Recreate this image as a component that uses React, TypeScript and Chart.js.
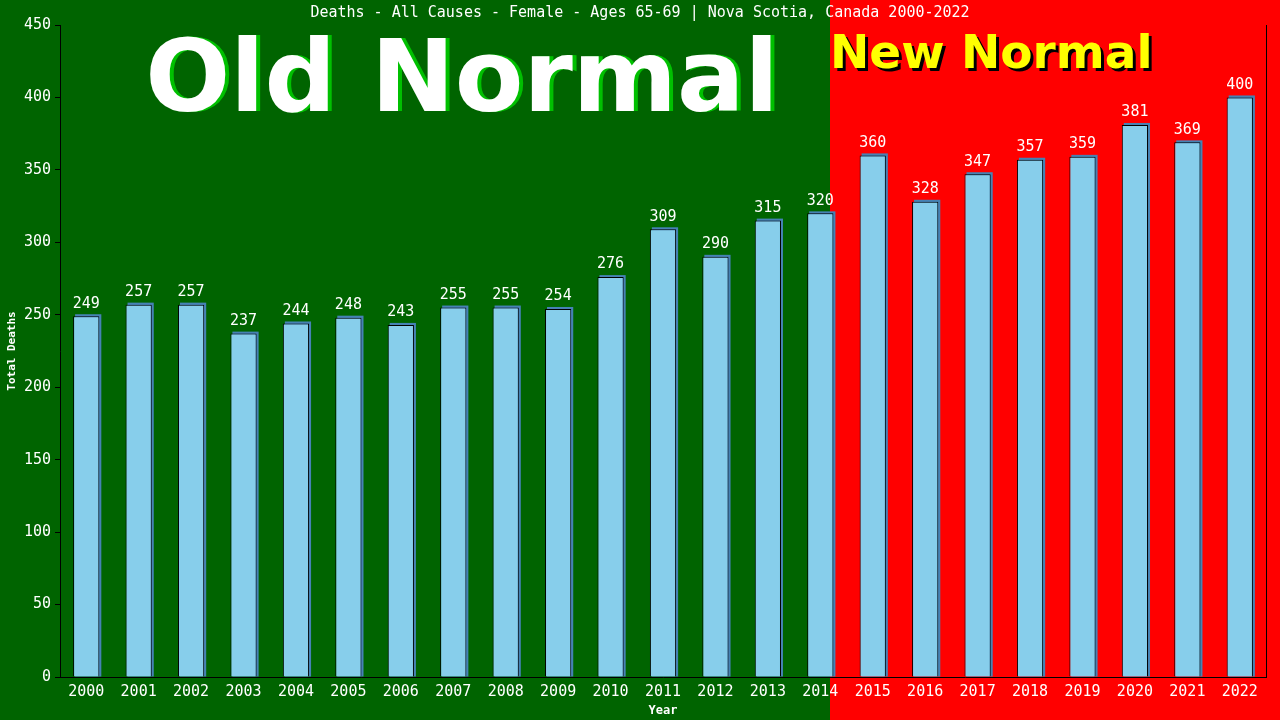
import React, { useEffect, useRef } from 'react';
import Chart from 'chart.js/auto';

// === Data ===
const YEARS = [
  '2000', '2001', '2002', '2003', '2004', '2005', '2006', '2007', '2008', '2009', '2010', '2011',
  '2012', '2013', '2014', '2015', '2016', '2017', '2018', '2019', '2020', '2021', '2022',
];
const DEATHS = [
  249, 257, 257, 237, 244, 248, 243, 255, 255, 254, 276, 309,
  290, 315, 320, 360, 328, 347, 357, 359, 381, 369, 400,
];
const Y_MIN = 0;
const Y_MAX = 450;
const Y_STEP = 50;

const TITLE = 'Deaths - All Causes - Female - Ages 65-69 | Nova Scotia, Canada 2000-2022';
const MONO = '"DejaVu Sans Mono", monospace';
const SANS = '"DejaVu Sans", Verdana, sans-serif';

const GREEN = '#006400';
const RED = '#ff0000';
const SPLIT_X = 830; // where the red "new normal" panel starts

// === Background, banners, title ===
const backdrop = {
  id: 'backdrop',
  beforeDraw(chart: any) {
    const { ctx, width, height } = chart;
    ctx.save();
    ctx.fillStyle = GREEN;
    ctx.fillRect(0, 0, width, height);
    ctx.fillStyle = RED;
    ctx.fillRect(SPLIT_X, 0, width - SPLIT_X, height);

    ctx.fillStyle = '#ffffff';
    ctx.font = `15px ${MONO}`;
    ctx.textAlign = 'center';
    ctx.textBaseline = 'middle';
    ctx.fillText(TITLE, width / 2, 13);

    // Old Normal
    ctx.font = `bold 100px ${SANS}`;
    ctx.textAlign = 'center';
    ctx.textBaseline = 'alphabetic';
    ctx.fillStyle = '#00c000';
    ctx.fillText('Old Normal', 466, 111);
    ctx.fillStyle = '#ffffff';
    ctx.fillText('Old Normal', 462, 111);

    // New Normal
    ctx.font = `bold 47px ${SANS}`;
    ctx.textAlign = 'left';
    ctx.fillStyle = '#000000';
    ctx.fillText('New Normal', SPLIT_X + 3, 71);
    ctx.fillStyle = '#ffff00';
    ctx.fillText('New Normal', SPLIT_X, 68);
    ctx.restore();
  },
  beforeDatasetsDraw(chart: any) {
    const { ctx } = chart;
    const meta = chart.getDatasetMeta(0);
    ctx.save();
    ctx.fillStyle = '#4682b4';
    meta.data.forEach((bar: any) => {
      const half = bar.width / 2;
      ctx.fillRect(bar.x - half + 2, bar.y - 2, bar.width, bar.base - bar.y + 2);
    });
    ctx.restore();
  },
  afterDatasetsDraw(chart: any) {
    const { ctx, chartArea } = chart;
    const meta = chart.getDatasetMeta(0);
    ctx.save();
    ctx.fillStyle = '#ffffff';
    ctx.font = `15px ${MONO}`;
    ctx.textAlign = 'center';
    ctx.textBaseline = 'bottom';
    meta.data.forEach((bar: any, i: number) => {
      ctx.fillText(String(DEATHS[i]), bar.x, bar.y - 5);
    });
    // right frame line
    ctx.strokeStyle = '#000000';
    ctx.lineWidth = 1;
    ctx.beginPath();
    ctx.moveTo(Math.round(chartArea.right) + 0.5, chartArea.top);
    ctx.lineTo(Math.round(chartArea.right) + 0.5, chartArea.bottom);
    ctx.stroke();
    ctx.restore();
  },
};

const App: React.FC = () => {
  const canvasRef = useRef<HTMLCanvasElement>(null);

  useEffect(() => {
    document.body.style.margin = '0';
    if (!canvasRef.current) return;
    const chart = new Chart(canvasRef.current, {
      type: 'bar',
      data: {
        labels: YEARS,
        datasets: [
          {
            data: DEATHS,
            backgroundColor: '#87ceeb',
            borderColor: '#000000',
            borderWidth: 1,
            barPercentage: 0.5,
            categoryPercentage: 1,
          },
        ],
      },
      options: {
        animation: false,
        responsive: false,
        maintainAspectRatio: false,
        layout: { padding: { top: 25, right: 14, left: 0, bottom: 0 } },
        plugins: {
          legend: { display: false },
          title: { display: false },
          tooltip: { enabled: false },
        },
        scales: {
          x: {
            afterFit: (s: any) => { s.height = 43; },
            grid: { display: true, drawOnChartArea: false, drawTicks: false, color: '#000' },
            border: { display: true, color: '#000', width: 1 },
            ticks: { color: '#ffffff', font: { family: MONO, size: 15 }, padding: 6, maxRotation: 0, autoSkip: false },
            title: {
              display: true,
              text: 'Year',
              color: '#ffffff',
              font: { family: MONO, size: 12, weight: 'bold' },
              padding: { top: 0, bottom: 2 },
            },
          },
          y: {
            min: Y_MIN,
            max: Y_MAX,
            afterFit: (s: any) => { s.width = 60; },
            grid: { display: true, drawOnChartArea: false, drawTicks: true, tickLength: 5, color: '#000' },
            border: { display: true, color: '#000', width: 1 },
            ticks: { stepSize: Y_STEP, color: '#ffffff', font: { family: MONO, size: 15 }, padding: 4 },
            title: {
              display: true,
              text: 'Total Deaths',
              color: '#ffffff',
              font: { family: MONO, size: 11, weight: 'bold' },
              padding: { top: 6, bottom: 0 },
            },
          },
        },
      },
      plugins: [backdrop],
    });
    return () => chart.destroy();
  }, []);

  return (
    <div style={{ width: 1280, height: 720 }}>
      <canvas ref={canvasRef} width={1280} height={720} style={{ display: 'block' }} />
    </div>
  );
};

export default App;
